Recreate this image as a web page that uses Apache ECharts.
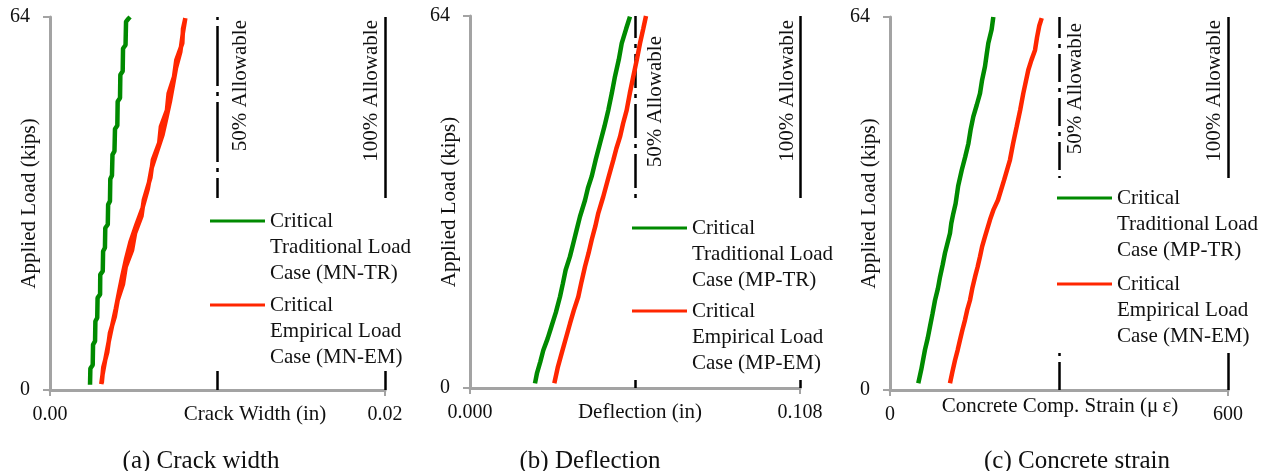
<!DOCTYPE html>
<html>
<head>
<meta charset="utf-8">
<script src="https://cdn.jsdelivr.net/npm/echarts@6/dist/echarts.min.js"></script>
<style>
html, body { margin: 0; padding: 0; background: #fff; }
#chart { width: 1266px; height: 471px; }
</style>
</head>
<body>
<div id="chart"></div>
<script>
// panel (a) crack width (in) vs applied load (kips)
const aTrLoad = [0.9, 3.7, 4.3, 7.8, 8.4, 11.8, 12.4, 15.8, 16.4, 19.8, 20.4, 23.8, 24.4, 27.8, 28.4, 31.8, 32.4, 36.2, 36.8, 40.4, 41.0, 44.8, 45.4, 49.5, 50.1, 54.1, 54.7, 58.6, 59.2, 63.2, 63.7, 64.0];
const aTrWidth = [0.00239, 0.00241, 0.00255, 0.00257, 0.00269, 0.00271, 0.00282, 0.00284, 0.00299, 0.00300, 0.00315, 0.00317, 0.00328, 0.00330, 0.00345, 0.00347, 0.00358, 0.00360, 0.00370, 0.00373, 0.00385, 0.00388, 0.00402, 0.00404, 0.00418, 0.00420, 0.00434, 0.00436, 0.00451, 0.00454, 0.00468, 0.00478];
const aEmLoad = [1.2, 3.9, 6.5, 9.8, 12.6, 15.4, 18.2, 21.1, 24.0, 26.9, 29.8, 32.6, 36.5, 39.5, 42.4, 45.2, 48.0, 50.9, 53.7, 56.6, 59.5, 62.0, 63.8,
  63.6, 61.0, 58.0, 55.2, 52.3, 49.5, 46.6, 43.8, 41.0, 38.0, 34.5, 31.2, 28.3, 25.4, 22.6, 19.6, 16.8, 14.0, 11.2, 8.2, 5.2, 2.5, 1.0];
const aEmWidth = [0.00309, 0.00318, 0.00342, 0.00358, 0.00387, 0.00404, 0.00436, 0.00452, 0.00490, 0.00508, 0.00546, 0.00560, 0.00600, 0.00614, 0.00652, 0.00662, 0.00698, 0.00708, 0.00740, 0.00754, 0.00790, 0.00794, 0.00808,
  0.00800, 0.00792, 0.00778, 0.00752, 0.00734, 0.00716, 0.00694, 0.00672, 0.00640, 0.00606, 0.00584, 0.00552, 0.00515, 0.00480, 0.00455, 0.00432, 0.00412, 0.00393, 0.00372, 0.00350, 0.00330, 0.00313, 0.00306];

// panel (b) deflection (in)
const bTrLoad = [0.8, 2.5, 4.5, 6.5, 8.5, 10.5, 13.0, 15.7, 18.0, 20.3, 22.6, 24.9, 27.2, 29.5, 32.3, 34.4, 36.4, 39.2, 42.1, 45.0, 47.8, 50.7, 53.6, 56.5, 59.3, 61.8, 63.9];
const bTrDefl = [0.02127, 0.02190, 0.02300, 0.02399, 0.02540, 0.02660, 0.02810, 0.02945, 0.03040, 0.03130, 0.03270, 0.03381, 0.03490, 0.03600, 0.03764, 0.03860, 0.03983, 0.04110, 0.04255, 0.04400, 0.04526, 0.04640, 0.04745, 0.04870, 0.04965, 0.05110, 0.05236];
const bEmLoad = [0.8, 3.5, 6.0, 8.6, 11.1, 13.4, 15.7, 18.3, 20.9, 23.2, 25.5, 27.8, 30.1, 32.9, 36.0, 39.2, 41.2, 43.2, 45.5, 47.8, 50.7, 53.6, 56.5, 59.3, 61.8, 64.0];
const bEmDefl = [0.02759, 0.02870, 0.03001, 0.03140, 0.03273, 0.03400, 0.03544, 0.03650, 0.03764, 0.03880, 0.03983, 0.04100, 0.04199, 0.04360, 0.04520, 0.04690, 0.04790, 0.04909, 0.05010, 0.05128, 0.05230, 0.05344, 0.05460, 0.05564, 0.05670, 0.05760];

// panel (c) concrete compressive strain (microstrain)
const cTrLoad = [1.15, 3.5, 6.9, 8.9, 10.9, 13.1, 15.4, 17.4, 19.4, 21.5, 23.5, 26.9, 28.6, 30.3, 32.0, 35.0, 37.7, 40.0, 42.3, 44.6, 46.9, 48.9, 50.9, 53.2, 55.5, 57.5, 59.5, 61.8, 63.0, 64.0];
const cTrStrain = [50.2, 55.5, 62.1, 67.0, 71.0, 75.5, 79.9, 85.0, 88.8, 93.5, 97.6, 106.5, 108.8, 112.4, 116.5, 121.0, 127.3, 133.5, 139.2, 143.0, 147.9, 154.0, 159.8, 163.5, 168.6, 171.5, 174.5, 180.3, 182.0, 183.4];
const cEmLoad = [1.15, 3.0, 5.1, 6.8, 8.6, 10.3, 12.0, 13.7, 15.4, 17.4, 19.4, 21.1, 22.9, 24.6, 26.3, 29.2, 31.0, 32.6, 36.0, 39.5, 42.3, 45.2, 48.0, 50.9, 54.9, 56.6, 58.3, 60.5, 62.5, 63.8];
const cEmStrain = [106.5, 110.5, 115.4, 120.0, 124.3, 128.5, 133.1, 137.0, 142.0, 146.0, 150.9, 155.5, 159.8, 163.5, 168.6, 177.5, 184.0, 191.7, 202.5, 213.0, 218.5, 224.9, 231.0, 236.6, 245.5, 251.0, 257.4, 261.0, 265.0, 269.3];

const xMax = [0.02, 0.108, 600];
const yMax = 64;
const allow50 = [0.01, 0.054, 300];
const allow100 = [0.02, 0.108, 600];
const xNames = ['Crack Width (in)', 'Deflection (in)', 'Concrete Comp. Strain (μ\u2009ε)'];
const captions = ['(a) Crack width', '(b) Deflection', '(c) Concrete strain'];
const trNames = ['Critical\nTraditional Load\nCase (MN-TR)', 'Critical\nTraditional Load\nCase (MP-TR)', 'Critical\nTraditional Load\nCase (MP-TR)'];
const emNames = ['Critical\nEmpirical Load\nCase (MN-EM)', 'Critical\nEmpirical Load\nCase (MP-EM)', 'Critical\nEmpirical Load\nCase (MN-EM)'];

const trData = [
  aTrWidth.map((v, i) => [v, aTrLoad[i]]),
  bTrDefl.map((v, i) => [v, bTrLoad[i]]),
  cTrStrain.map((v, i) => [v, cTrLoad[i]])
];
const emData = [
  aEmWidth.map((v, i) => [v, aEmLoad[i]]),
  bEmDefl.map((v, i) => [v, bEmLoad[i]]),
  cEmStrain.map((v, i) => [v, cEmLoad[i]])
];

const FONT = 'Liberation Serif';
const GREEN = '#008a00';
const RED = '#ff2600';
const AXIS = '#a3a3a3';

// layout per panel
const panels = [
  { grid: { left: 50, top: 17, width: 335, height: 373 }, fmt: v => v.toFixed(2), namePad: 75, nameGap: 14,
    cap: 196, legend: { left: 208, top: 198, padding: [10, 4, 1, 2], itemGap: 6 },
    dash: [60, 6, 4, 6], d50: [3, 12], d100: [3, 3] },
  { grid: { left: 470, top: 16, width: 330, height: 372 }, fmt: v => v.toFixed(3), namePad: 10, nameGap: 14,
    cap: 585, legend: { left: 630, top: 198, padding: [17, 4, 4, 2], itemGap: 5 },
    dash: [34, 6, 4, 6], d50: [20, 10], d100: [4, 2] },
  { grid: { left: 890, top: 17, width: 338, height: 373 }, fmt: v => String(Math.round(v)), namePad: 2, nameGap: 6,
    cap: 1072, legend: { left: 1054, top: 178, padding: [7, 4, 4, 3], itemGap: 8 },
    dash: [28, 6, 4, 6], d50: [6, 6], d100: [3, 3] }
];

const chart = echarts.init(document.getElementById('chart'));
const option = {
  animation: false,
  textStyle: { fontFamily: FONT, color: '#111' },
  title: panels.map((p, i) => ({
    text: captions[i], left: p.cap, top: 444, textAlign: 'center',
    textStyle: { fontFamily: FONT, fontSize: 25, fontWeight: 'normal', color: '#111' }
  })),
  grid: panels.map(p => Object.assign({ outerBoundsMode: 'none', containLabel: false }, p.grid)),
  xAxis: panels.map((p, i) => ({
    type: 'value', gridIndex: i, min: 0, max: xMax[i], interval: xMax[i],
    name: xNames[i], nameLocation: 'middle', nameGap: p.nameGap, nameMoveOverlap: false,
    nameTextStyle: { fontFamily: FONT, fontSize: 21, color: '#111', padding: [0, 0, 0, p.namePad] },
    axisLine: { lineStyle: { color: AXIS, width: 3 } },
    axisTick: { show: true, length: 6, lineStyle: { color: AXIS, width: 2 } },
    axisLabel: { fontFamily: FONT, fontSize: 20, color: '#111', margin: 15, formatter: p.fmt },
    splitLine: { show: false }
  })),
  yAxis: panels.map((p, i) => ({
    type: 'value', gridIndex: i, min: 0, max: yMax, interval: yMax,
    name: 'Applied Load (kips)', nameLocation: 'middle', nameGap: 10, nameMoveOverlap: false,
    nameTextStyle: { fontFamily: FONT, fontSize: 21, color: '#111' },
    axisLine: { show: true, lineStyle: { color: AXIS, width: 3 } },
    axisTick: { show: true, length: 7, lineStyle: { color: AXIS, width: 2 } },
    axisLabel: { fontFamily: FONT, fontSize: 20, color: '#111', margin: 20 },
    splitLine: { show: false }
  })),
  legend: panels.map((p, i) => ({
    orient: 'vertical', left: p.legend.left, top: p.legend.top, padding: p.legend.padding,
    itemGap: p.legend.itemGap, backgroundColor: '#fff', selectedMode: false, z: 20,
    data: ['tr' + i, 'em' + i],
    formatter: name => (name[0] === 't' ? trNames : emNames)[+name.slice(2)],
    icon: 'path://M0,0h55v3h-55z M0,54.95h0.05v0.05h-0.05z',
    itemWidth: 55, itemHeight: 55,
    itemStyle: { borderWidth: 0 },
    textStyle: { fontFamily: FONT, fontSize: 21, lineHeight: 26, color: '#111' }
  })),
  series: []
};

panels.forEach((p, i) => {
  option.series.push({
    name: 'tr' + i, type: 'line', xAxisIndex: i, yAxisIndex: i,
    data: trData[i], showSymbol: false, symbol: 'none', z: 3,
    lineStyle: { color: GREEN, width: 4.5 }, itemStyle: { color: GREEN },
    markLine: {
      silent: true, symbol: ['none', 'none'], precision: 4, z: 2,
      data: [
        { xAxis: allow50[i], lineStyle: { color: '#000', width: 2.5, type: p.dash },
          label: { show: true, formatter: '50% Allowable', position: 'insideEndBottom', distance: p.d50,
                   fontFamily: FONT, fontSize: 21, color: '#111' } },
        { xAxis: allow100[i], lineStyle: { color: '#000', width: 2.5, type: 'solid' },
          label: { show: true, formatter: '100% Allowable', position: 'insideEndTop', distance: p.d100,
                   fontFamily: FONT, fontSize: 21, color: '#111' } }
      ]
    }
  });
  option.series.push({
    name: 'em' + i, type: 'line', xAxisIndex: i, yAxisIndex: i,
    data: emData[i], showSymbol: false, symbol: 'none', z: 3,
    lineStyle: { color: RED, width: 4.5 }, itemStyle: { color: RED }
  });
});

chart.setOption(option);
</script>
</body>
</html>
